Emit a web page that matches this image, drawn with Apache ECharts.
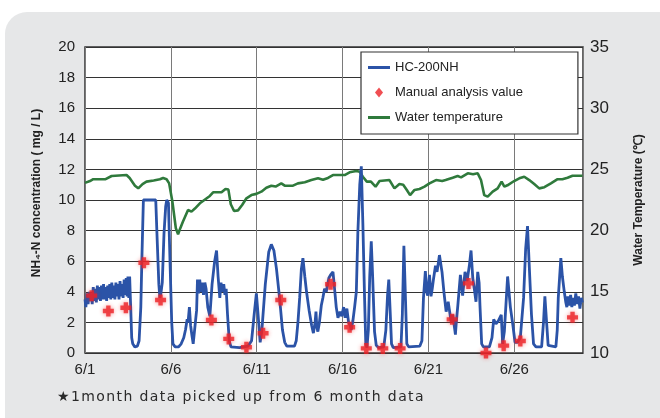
<!DOCTYPE html>
<html>
<head>
<meta charset="utf-8">
<script src="https://cdn.jsdelivr.net/npm/echarts@6/dist/echarts.min.js"></script>
<style>
  html, body { margin: 0; padding: 0; background: #fff; }
  #chart { width: 660px; height: 418px; }
</style>
</head>
<body>
<div id="chart"></div>
<script>
// x values are days since 6/1 00:00
const dayTicks = [0, 5, 10, 15, 20, 25];
const dayLabels = ['6/1', '6/6', '6/11', '6/16', '6/21', '6/26'];

// HC-200NH continuous reading (mg/L)
const hcDays = [
  0.00, 0.05, 0.12, 0.18, 0.25, 0.30, 0.36, 0.42, 0.48, 0.53, 0.60, 0.66, 0.72, 0.78, 0.84, 0.90,
  0.96, 1.02, 1.08, 1.14, 1.20, 1.26, 1.32, 1.38, 1.44, 1.50, 1.56, 1.62, 1.68, 1.74, 1.80, 1.86,
  1.92, 1.98, 2.04, 2.10, 2.16, 2.22, 2.28, 2.34, 2.40, 2.45, 2.50, 2.55, 2.60, 2.66, 2.72, 2.78,
  2.90, 3.05, 3.15, 3.25, 3.32, 3.40, 4.12, 4.20, 4.30, 4.36, 4.42, 4.50, 4.60, 4.70, 4.76, 4.86,
  4.95, 5.05, 5.12, 5.25, 5.45, 5.60, 5.75, 5.85, 5.95, 6.00, 6.08, 6.15, 6.22, 6.30, 6.38, 6.50,
  6.55, 6.62, 6.68, 6.75, 6.82, 6.90, 6.98, 7.05, 7.15, 7.27, 7.40, 7.55, 7.66, 7.75, 7.85, 7.92,
  8.00, 8.08, 8.15, 8.22, 8.30, 8.40, 8.50, 9.00, 9.50, 9.70, 9.85, 9.98, 10.08, 10.20, 10.30, 10.50,
  10.70, 10.85, 11.00, 11.15, 11.33, 11.50, 11.63, 11.75, 12.20, 12.30, 12.40, 12.50, 12.60, 12.69, 12.80, 12.90,
  13.05, 13.20, 13.30, 13.40, 13.45, 13.50, 13.56, 13.65, 13.76, 13.85, 13.95, 14.05, 14.20, 14.30, 14.44, 14.55,
  14.63, 14.73, 14.85, 14.95, 15.06, 15.15, 15.25, 15.35, 15.45, 15.50, 15.60, 15.70, 15.80, 15.89, 16.00, 16.09,
  16.18, 16.28, 16.35, 16.42, 16.50, 16.58, 16.67, 16.75, 16.86, 16.96, 17.10, 17.40, 17.52, 17.62, 17.69, 17.76,
  17.85, 17.95, 18.40, 18.48, 18.57, 18.65, 18.74, 18.85, 19.50, 19.62, 19.71, 19.82, 19.90, 19.96, 20.06, 20.15,
  20.22, 20.29, 20.41, 20.50, 20.64, 20.72, 20.79, 20.90, 21.03, 21.15, 21.32, 21.42, 21.57, 21.62, 21.71, 21.86,
  21.99, 22.13, 22.25, 22.38, 22.48, 22.58, 22.67, 22.77, 22.87, 22.95, 23.00, 23.10, 23.20, 23.55, 23.70, 23.80,
  23.93, 24.07, 24.24, 24.32, 24.42, 24.61, 24.77, 24.92, 25.04, 25.19, 25.35, 25.54, 25.66, 25.77, 25.87, 26.00,
  26.12, 26.26, 26.59, 26.70, 26.78, 26.88, 26.97, 27.05, 27.42, 27.50, 27.56, 27.71, 27.80, 27.91, 28.00, 28.06,
  28.12, 28.20, 28.28, 28.35, 28.42, 28.50, 28.58, 28.66, 28.74, 28.82, 28.90, 28.97
];
const hcValues = [
  3.5, 3.0, 3.9, 3.2, 4.0, 3.4, 3.9, 3.2, 4.3, 3.4, 4.2, 3.3, 4.4, 3.5, 4.3, 3.4,
  4.4, 3.5, 4.5, 3.5, 4.3, 3.4, 4.4, 3.6, 4.5, 3.5, 4.6, 3.6, 4.4, 3.5, 4.6, 3.7,
  4.5, 3.5, 4.7, 3.7, 4.5, 3.6, 4.8, 3.8, 4.9, 3.7, 5.0, 3.6, 5.0, 3.0, 1.0, 0.6,
  0.4, 0.45, 0.8, 3.0, 6.5, 10.0, 10.0, 7.5, 4.5, 3.6, 3.9, 4.6, 7.8, 9.6, 10.0, 9.8,
  6.0, 2.0, 0.6, 0.4, 0.4, 0.6, 1.0, 1.5, 2.2, 2.0, 3.0, 1.8, 1.2, 0.6, 0.7, 2.8,
  4.8, 3.9, 4.8, 4.0, 4.6, 3.8, 4.6, 4.2, 3.0, 2.4, 4.5, 6.0, 6.7, 5.0, 3.6, 4.6,
  4.0, 4.5, 3.8, 4.2, 2.5, 0.8, 0.4, 0.35, 0.45, 0.8, 2.5, 3.9, 2.5, 0.7, 1.5, 4.5,
  6.6, 7.1, 6.7, 5.5, 3.6, 1.5, 0.7, 0.45, 0.45, 0.8, 2.0, 3.6, 5.5, 6.2, 5.0, 4.0,
  2.8, 1.8, 1.3, 2.0, 2.7, 1.7, 1.4, 2.0, 3.1, 3.6, 4.2, 4.0, 4.9, 5.1, 5.3, 4.0,
  3.0, 2.3, 2.7, 2.4, 3.0, 2.3, 2.9, 2.0, 1.8, 1.5, 2.1, 3.0, 4.0, 7.9, 11.0, 12.2,
  8.5, 3.6, 0.6, 0.35, 1.5, 5.0, 7.3, 5.0, 1.4, 0.5, 0.35, 0.4, 1.5, 3.8, 4.8, 3.0,
  0.6, 0.35, 0.4, 2.5, 7.0, 4.0, 0.6, 0.4, 0.45, 0.8, 3.6, 5.35, 4.0, 3.75, 5.1, 3.7,
  4.2, 4.8, 5.7, 5.3, 6.4, 5.8, 5.3, 4.0, 2.7, 3.35, 2.05, 2.5, 1.2, 2.0, 3.1, 5.1,
  3.75, 5.3, 4.7, 5.7, 6.7, 4.9, 4.2, 3.35, 5.3, 4.6, 3.1, 0.6, 0.4, 0.4, 1.0, 2.2,
  1.9, 2.1, 2.5, 0.6, 1.4, 5.0, 3.0, 1.8, 0.7, 0.7, 1.0, 3.6, 6.8, 8.3, 5.7, 2.5,
  0.6, 0.4, 0.4, 2.0, 3.7, 2.0, 0.5, 0.4, 0.4, 1.5, 3.6, 6.2, 5.0, 4.0, 3.3, 3.0,
  3.7, 3.1, 3.8, 3.0, 3.6, 3.1, 3.9, 3.2, 3.7, 2.9, 3.6, 3.3
];

// manual analysis samples (mg/L)
const manualDays = [0.39, 1.36, 2.38, 3.43, 4.40, 7.36, 8.37, 9.40, 10.37, 11.40, 14.30,
  15.41, 16.38, 17.34, 18.35, 21.38, 22.33, 23.35, 24.38, 25.35, 28.39];
const manualValues = [3.75, 2.75, 2.96, 5.9, 3.46, 2.16, 0.92, 0.38, 1.29, 3.46, 4.49,
  1.68, 0.3, 0.3, 0.3, 2.2, 4.55, 0.0, 0.48, 0.78, 2.33];

// water temperature (°C)
const tempDays = [
  0, 0.29, 0.48, 1.2, 1.55, 2.42, 2.6, 2.91, 3.1, 3.35, 3.58, 4.0, 4.36, 4.55, 4.75, 4.9,
  5.09, 5.29, 5.42, 5.55, 5.7, 6.0, 6.2, 6.4, 6.69, 6.95, 7.27, 7.46, 7.95, 8.18, 8.35, 8.49,
  8.68, 8.91, 9.15, 9.4, 9.69, 9.98, 10.27, 10.56, 10.85, 11.1, 11.43, 11.63, 12.11, 12.4, 12.8, 13.18,
  13.57, 13.86, 14.15, 14.44, 15.12, 15.41, 15.8, 16.0, 16.18, 16.41, 16.65, 16.92, 17.15, 17.73, 18.02, 18.31,
  18.53, 18.74, 18.93, 19.19, 19.48, 19.77, 20.06, 20.44, 20.8, 21.0, 21.41, 21.7, 21.9, 22.29, 22.6, 22.87,
  23.06, 23.25, 23.45, 23.74, 24.03, 24.26, 24.42, 24.6, 24.99, 25.29, 25.58, 25.87, 26.16, 26.45, 26.75, 27.13,
  27.52, 27.8, 28.1, 28.39, 28.97
];
const tempValues = [
  23.9, 24.05, 24.2, 24.2, 24.46, 24.54, 24.3, 23.67, 23.45, 23.8, 24.0, 24.1, 24.19, 24.3, 24.2, 23.86,
  22.36, 20.19, 19.7, 20.2, 20.73, 21.68, 21.55, 21.8, 22.23, 22.5, 22.83, 23.13, 23.13, 23.4, 23.35, 22.15,
  21.6, 21.65, 22.09, 22.64, 22.9, 23.0, 23.18, 23.5, 23.67, 23.6, 23.86, 23.67, 23.67, 23.86, 23.95, 24.13,
  24.27, 24.15, 24.3, 24.54, 24.54, 24.76, 24.87, 24.8, 24.4, 24.0, 24.0, 23.59, 24.05, 24.13, 23.45, 23.8,
  23.75, 23.32, 22.9, 23.32, 23.4, 23.59, 23.86, 24.13, 24.05, 24.13, 24.32, 24.46, 24.35, 24.68, 24.6, 24.68,
  24.13, 22.9, 22.77, 23.18, 23.45, 24.0, 23.59, 23.7, 24.05, 24.27, 24.4, 24.13, 23.8, 23.45, 23.55, 23.86,
  24.2, 24.2, 24.32, 24.48, 24.48
];

const zip = (xs, ys) => xs.map((x, i) => [x, ys[i]]);
const FONT = "'Liberation Sans', Arial, sans-serif";
// footnote is letter-spaced in the original, hair spaces mimic that
const footnote = Array.from('★1month data picked up from 6 month data').join('\u200A');

// legend icons (path icons keep their aspect ratio inside the item box)
const lineIcon = 'path://M0,0 H22 V3 H0 Z';
const diamondIcon = 'path://M4,0 L8,5 L4,10 L0,5 Z';

const chart = echarts.init(document.getElementById('chart'), null, { renderer: 'canvas' });

const option = {
  backgroundColor: '#ffffff',
  animation: false,
  textStyle: { fontFamily: FONT },
  graphic: [
    {
      type: 'rect', z: -10, silent: true,
      shape: { x: 5, y: 12, width: 700, height: 440, r: 22 },
      style: { fill: '#e6e7e8' }
    },
    {
      type: 'text', left: 57, top: 390,
      style: {
        text: footnote,
        font: "14px 'DejaVu Sans', sans-serif",
        fill: '#2a2a2a'
      }
    }
  ],
  grid: {
    left: 85, right: 77, top: 47, bottom: 65,
    show: true, backgroundColor: '#ffffff',
    borderColor: '#333', borderWidth: 1.5
  },
  legend: {
    orient: 'vertical',
    left: 361, top: 52,
    padding: [9, 55, 10, 7],
    itemGap: 12,
    itemWidth: 22, itemHeight: 10,
    symbolKeepAspect: true,
    backgroundColor: '#ffffff',
    borderColor: '#333', borderWidth: 1.2,
    textStyle: { fontSize: 13, color: '#222', fontFamily: FONT },
    data: [
      { name: 'HC-200NH', icon: lineIcon },
      { name: 'Manual analysis value', icon: diamondIcon },
      { name: 'Water temperature', icon: lineIcon }
    ]
  },
  xAxis: {
    type: 'value', min: 0, max: 29, interval: 5,
    axisLine: { show: false },
    axisTick: { show: false },
    splitLine: { show: true, lineStyle: { color: '#7a7a7a', width: 1 } },
    axisLabel: {
      margin: 9, fontSize: 15, color: '#222', fontFamily: FONT,
      formatter: v => {
        const i = dayTicks.indexOf(v);
        return i >= 0 ? dayLabels[i] : '';
      }
    }
  },
  yAxis: [
    {
      type: 'value', min: 0, max: 20, interval: 2,
      name: 'NH₄-N concentration ( mg / L)',
      nameLocation: 'middle', nameGap: 42, nameRotate: 90,
      nameTextStyle: { fontSize: 12, fontWeight: 'bold', color: '#222', fontFamily: FONT, padding: [0, 0, 0, 14] },
      axisLine: { show: false },
      axisTick: { show: false },
      splitLine: { show: true, lineStyle: { color: '#333', width: 1 } },
      axisLabel: { margin: 10, fontSize: 15, color: '#222', fontFamily: FONT }
    },
    {
      type: 'value', min: 10, max: 35, interval: 5,
      position: 'right',
      name: 'Water Temperature (℃)',
      nameLocation: 'middle', nameGap: 50, nameRotate: 90,
      nameTextStyle: { fontSize: 12, fontWeight: 'bold', color: '#222', fontFamily: FONT },
      axisLine: { show: false },
      axisTick: { show: false },
      splitLine: { show: false },
      axisLabel: { margin: 7, fontSize: 17, color: '#222', fontFamily: FONT }
    }
  ],
  series: [
    {
      name: 'HC-200NH', type: 'line', yAxisIndex: 0,
      symbol: 'none', z: 3,
      lineStyle: { color: '#2b53a7', width: 2.8 },
      itemStyle: { color: '#2b53a7' },
      data: zip(hcDays, hcValues)
    },
    {
      name: 'Manual analysis value', type: 'scatter', yAxisIndex: 0,
      symbol: 'path://M3,0 H7 V3 H10 V7 H7 V10 H3 V7 H0 V3 H3 Z',
      symbolSize: 11, symbolKeepAspect: true, z: 5, clip: false,
      itemStyle: { color: '#ec2227', shadowBlur: 4, shadowColor: 'rgba(240,40,40,0.6)' },
      data: zip(manualDays, manualValues)
    },
    {
      name: 'Water temperature', type: 'line', yAxisIndex: 1,
      symbol: 'none', z: 2,
      lineStyle: { color: '#2f7a3c', width: 2.6 },
      itemStyle: { color: '#2f7a3c' },
      data: zip(tempDays, tempValues)
    }
  ]
};

chart.setOption(option);
</script>
</body>
</html>
